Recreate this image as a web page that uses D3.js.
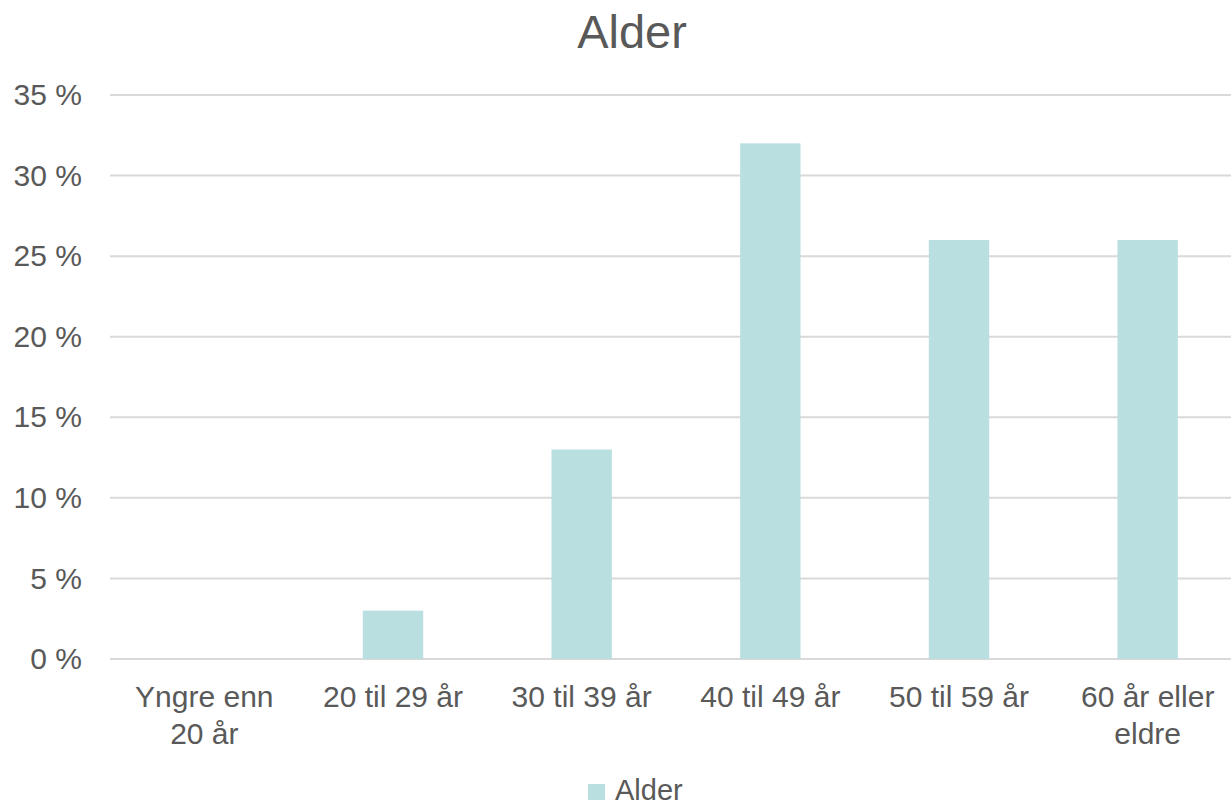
<!DOCTYPE html>
<html>
<head>
<meta charset="utf-8">
<script src="https://cdn.jsdelivr.net/npm/d3@7"></script>
<style>
body { margin: 0; background: #fff; }
text { font-family: "Liberation Sans", Arial, sans-serif; fill: #595959; }
</style>
</head>
<body>
<svg id="chart"></svg>
<script>
var categories = ['Yngre enn 20 år', '20 til 29 år', '30 til 39 år', '40 til 49 år', '50 til 59 år', '60 år eller eldre'];
var values = [0, 3, 13, 32, 26, 26];
var yTicks = [0, 5, 10, 15, 20, 25, 30, 35];
var seriesName = 'Alder';
var chartTitle = 'Alder';

var width = 1231;
var height = 807;
var margin = {top: 95, bottom: 148, left: 110, right: -11};
var barColor = '#b9dfe1';

var svg = d3.select('#chart')
	.attr('width', width)
	.attr('height', height);

var x = d3.scaleBand()
	.range([margin.left, width - margin.right])
	.paddingInner(0.68)
	.paddingOuter(0.34)
	.domain(categories);

var y = d3.scaleLinear()
	.range([height - margin.bottom, margin.top])
	.domain([0, 35]);

// gridlines
svg.append('g')
	.selectAll('line')
	.data(yTicks)
	.enter().append('line')
	.attr('x1', margin.left)
	.attr('x2', width)
	.attr('y1', function(d) { return y(d); })
	.attr('y2', function(d) { return y(d); })
	.attr('stroke', '#d9d9d9')
	.attr('stroke-width', 2);

// y axis labels
var yAxis = d3.axisLeft(y)
	.tickValues(yTicks)
	.tickSize(0)
	.tickPadding(28)
	.tickFormat(function(d) { return d + ' %'; });

svg.append('g')
	.attr('transform', 'translate(' + margin.left + ',0)')
	.call(yAxis)
	.call(function(g) { g.select('.domain').remove(); })
	.selectAll('text')
	.style('font-size', '30px')
	.attr('fill', '#595959');

// bars
svg.append('g')
	.selectAll('rect')
	.data(values)
	.enter().append('rect')
	.attr('x', function(d, i) { return x(categories[i]); })
	.attr('y', function(d) { return y(d); })
	.attr('width', x.bandwidth())
	.attr('height', function(d) { return y(0) - y(d); })
	.attr('fill', barColor);

// x axis labels
var xAxis = d3.axisBottom(x)
	.tickSize(0)
	.tickPadding(0);

var xg = svg.append('g')
	.attr('transform', 'translate(0,' + y(0) + ')')
	.call(xAxis);
xg.select('.domain').remove();
xg.selectAll('text')
	.style('font-size', '30px')
	.attr('fill', '#595959')
	.attr('y', 48)
	.attr('dy', 0)
	.call(wrap, 160);

function wrap(texts, maxWidth) {
	texts.each(function() {
		var text = d3.select(this);
		var words = text.text().split(' ');
		var yy = text.attr('y');
		text.text(null);
		var lines = [];
		var line = [];
		var tspan = text.append('tspan');
		words.forEach(function(w) {
			line.push(w);
			tspan.text(line.join(' '));
			if (tspan.node().getComputedTextLength() > maxWidth && line.length > 1) {
				line.pop();
				lines.push(line.join(' '));
				line = [w];
			}
		});
		lines.push(line.join(' '));
		text.text(null);
		lines.forEach(function(l, i) {
			text.append('tspan')
				.attr('x', 0)
				.attr('y', +yy + i * 37)
				.text(l);
		});
	});
}

// title
svg.append('text')
	.attr('x', 632)
	.attr('y', 48)
	.attr('text-anchor', 'middle')
	.style('font-size', '47px')
	.text(chartTitle);

// legend
var legend = svg.append('g')
	.attr('transform', 'translate(588,784)');
legend.append('rect')
	.attr('width', 17)
	.attr('height', 16)
	.attr('fill', barColor);
legend.append('text')
	.attr('x', 27)
	.attr('y', 16)
	.style('font-size', '29px')
	.text(seriesName);
</script>
</body>
</html>
